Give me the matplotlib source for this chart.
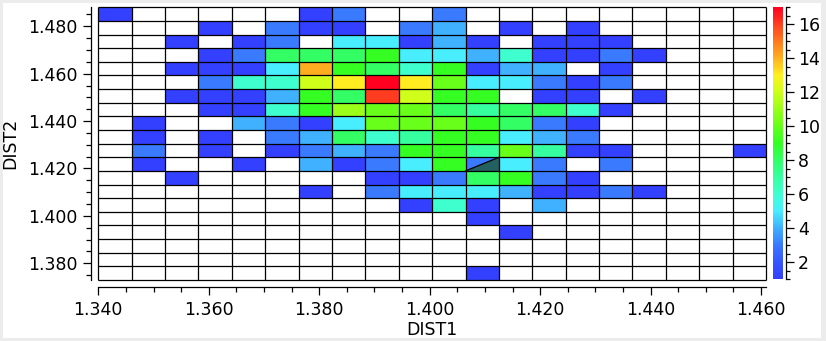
import numpy as np
import matplotlib
matplotlib.use("Agg")
import matplotlib.pyplot as plt
from matplotlib.colors import LinearSegmentedColormap, Normalize
from matplotlib.ticker import MultipleLocator, FormatStrFormatter
from matplotlib.patches import Rectangle, Polygon

# ---- histogram binning -------------------------------------------------
dist1_range = (1.3400, 1.4609)
dist2_range = (1.37295, 1.4880)
n_bins_x = 20
n_bins_y = 20

# Counts per bin; rows go from the highest DIST2 bin down to the lowest,
# columns from the lowest DIST1 bin to the highest.
counts_rows = [
    [1, 0, 0, 0, 0, 0, 1, 3, 0, 0, 3, 0, 0, 0, 0, 0, 0, 0, 0, 0],
    [0, 0, 0, 1, 0, 3, 1, 1, 0, 3, 4, 0, 1, 0, 1, 0, 0, 0, 0, 0],
    [0, 0, 1, 0, 1, 3, 0, 5, 5, 1, 4, 1, 0, 1, 1, 1, 0, 0, 0, 0],
    [0, 0, 0, 1, 3, 8, 8, 8, 9, 5, 5, 4, 6, 1, 1, 3, 1, 0, 0, 0],
    [0, 0, 1, 1, 1, 5, 14, 9, 8, 6, 9, 1, 4, 4, 0, 1, 0, 0, 0, 0],
    [0, 0, 0, 3, 6, 6, 12, 13, 17, 13, 10, 5, 5, 3, 1, 3, 0, 0, 0, 0],
    [0, 0, 1, 1, 1, 4, 9, 8, 16, 12, 9, 9, 0, 1, 1, 0, 1, 0, 0, 0],
    [0, 0, 0, 1, 1, 6, 9, 11, 10, 10, 8, 7, 8, 8, 6, 1, 0, 0, 0, 0],
    [0, 1, 0, 0, 4, 3, 1, 5, 10, 10, 10, 9, 8, 3, 1, 0, 0, 0, 0, 0],
    [0, 1, 0, 1, 0, 3, 4, 8, 6, 7, 9, 9, 5, 4, 3, 0, 0, 0, 0, 0],
    [0, 3, 0, 1, 0, 1, 3, 4, 3, 9, 9, 7, 10, 7, 1, 1, 0, 0, 0, 1],
    [0, 1, 0, 0, 1, 0, 4, 1, 3, 5, 9, 3, 5, 3, 0, 3, 0, 0, 0, 0],
    [0, 0, 1, 0, 0, 0, 0, 0, 1, 1, 3, 8, 9, 3, 1, 0, 0, 0, 0, 0],
    [0, 0, 0, 0, 0, 0, 1, 0, 3, 5, 5, 5, 4, 1, 1, 3, 1, 0, 0, 0],
    [0, 0, 0, 0, 0, 0, 0, 0, 0, 1, 6, 1, 0, 4, 0, 0, 0, 0, 0, 0],
    [0, 0, 0, 0, 0, 0, 0, 0, 0, 0, 0, 1, 0, 0, 0, 0, 0, 0, 0, 0],
    [0, 0, 0, 0, 0, 0, 0, 0, 0, 0, 0, 0, 1, 0, 0, 0, 0, 0, 0, 0],
    [0, 0, 0, 0, 0, 0, 0, 0, 0, 0, 0, 0, 0, 0, 0, 0, 0, 0, 0, 0],
    [0, 0, 0, 0, 0, 0, 0, 0, 0, 0, 0, 0, 0, 0, 0, 0, 0, 0, 0, 0],
    [0, 0, 0, 0, 0, 0, 0, 0, 0, 0, 0, 1, 0, 0, 0, 0, 0, 0, 0, 0],
]

# bin (column, row counted from the bottom) with a shaded lower-right half
shaded_bin = (11, 8)

count_range = (1, 17)
cbar_ticks = [2, 4, 6, 8, 10, 12, 14, 16]

# colour ramp, one colour per count from 1 to 17
ramp_colors = ['#3340ff', '#3556ff', '#3a7aff', '#40b0ff', '#48eeff',
               '#40ffd0', '#36ffa0', '#33ff66', '#33ff22', '#66ff1a',
               '#99ff1a', '#ccff1a', '#fff022', '#ffb020', '#ff7a20',
               '#ff4020', '#ff0020']

# ---- figure ------------------------------------------------------------
W, H = 826, 341
fig = plt.figure(figsize=(W / 100, H / 100), dpi=100, facecolor='#ececec')
fig.add_artist(Rectangle((3 / W, 1 - 338 / H), (821 - 3) / W, (338 - 3) / H,
                         transform=fig.transFigure, facecolor='white',
                         edgecolor='none', zorder=-10))

FS = 12.5
LW = 0.9

ax = fig.add_axes([98.3 / W, 1 - 280 / H, (766 - 98.3) / W, (280 - 7.3) / H])

x_edges = np.linspace(dist1_range[0], dist1_range[1], n_bins_x + 1)
y_edges = np.linspace(dist2_range[0], dist2_range[1], n_bins_y + 1)
counts = np.array(counts_rows)[::-1]

pos = np.linspace(0, 1, len(ramp_colors))
cmap = LinearSegmentedColormap.from_list('ramp', list(zip(pos, ramp_colors)))
norm = Normalize(*count_range)

mesh = ax.pcolormesh(x_edges, y_edges, np.ma.masked_equal(counts, 0),
                     cmap=cmap, norm=norm, edgecolors='white',
                     linewidth=0.5, zorder=1)

# shaded half of one bin
c, r = shaded_bin
x0, x1 = x_edges[c], x_edges[c + 1]
y0, y1 = y_edges[r], y_edges[r + 1]
ax.add_patch(Polygon([(x0, y0), (x1, y0), (x1, y1)], closed=True,
                     facecolor='#246060', edgecolor='none', zorder=2))
ax.plot([x0, x1], [y0, y1], color='black', lw=LW, zorder=3)

# bin grid
ax.vlines(x_edges, y_edges[0], y_edges[-1], colors='black', lw=LW,
          zorder=4, clip_on=False)
ax.hlines(y_edges, x_edges[0], x_edges[-1], colors='black', lw=LW,
          zorder=4, clip_on=False)

ax.set_xlim(x_edges[0], x_edges[-1])
ax.set_ylim(y_edges[0], y_edges[-1])

for s in ('top', 'right'):
    ax.spines[s].set_visible(False)
for s in ('left', 'bottom'):
    ax.spines[s].set_position(('outward', 5))
    ax.spines[s].set_linewidth(LW)

for axis in (ax.xaxis, ax.yaxis):
    axis.set_major_locator(MultipleLocator(0.02))
    axis.set_minor_locator(MultipleLocator(0.005))
    axis.set_major_formatter(FormatStrFormatter('%.3f'))

ax.tick_params(which='major', direction='out', length=6, width=LW,
               labelsize=FS, pad=4, colors='black')
ax.tick_params(which='minor', direction='out', length=3.8, width=LW)

ax.set_xlabel('DIST1', fontsize=FS, labelpad=1.5)
ax.set_ylabel('DIST2', fontsize=FS, labelpad=6)

# ---- colour bar --------------------------------------------------------
cax = fig.add_axes([772.7 / W, 1 - 279 / H, 10.6 / W, (279 - 7) / H])
cb = fig.colorbar(mesh, cax=cax, ticks=cbar_ticks)
cb.outline.set_visible(False)
cb.minorlocator = MultipleLocator(0.5)
cax.spines['right'].set_visible(True)
cax.spines['right'].set_position(('outward', 1.7))
cax.spines['right'].set_linewidth(LW)
cax.tick_params(which='major', direction='out', length=6, width=LW,
                labelsize=FS, pad=3)
cax.tick_params(which='minor', direction='out', length=3, width=LW)

fig.savefig('out.png', dpi=100, facecolor=fig.get_facecolor())
